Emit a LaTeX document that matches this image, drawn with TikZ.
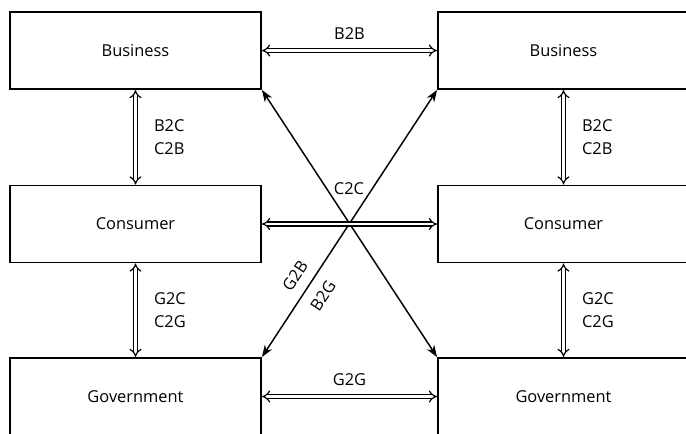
\documentclass[tikz,border=0pt]{standalone}
\usepackage{fontspec}
\setmainfont{Open Sans}
\usetikzlibrary{arrows.meta}
\begin{document}
\begin{tikzpicture}[x=0.75pt,y=-0.75pt,
  box/.style={draw, line width=1.4pt, minimum width=188.25pt, minimum height=57.75pt, inner sep=0pt, font=\fontsize{12.3}{15}\selectfont},
  dbl/.style={double, double distance=2.2pt, line width=0.9pt, {Implies[scale=1.4]}-{Implies[scale=1.4]}},
  diag/.style={line width=1.1pt, {Stealth[length=9pt,width=6.5pt]}-{Stealth[length=9pt,width=6.5pt]}},
  lbl/.style={font=\fontsize{12.3}{17}\selectfont, inner sep=0pt, align=left}]
\useasboundingbox (0,0) rectangle (686,433);
\clip (0,0) rectangle (686,433);
% boxes
\node[box] (bl) at (135.5,50.5) {Business};
\node[box] (cl) at (135.5,224) {Consumer};
\node[box] (gl) at (135.5,396.5) {Government};
\node[box] (br) at (563.5,50.5) {Business};
\node[box] (cr) at (563.5,224) {Consumer};
\node[box] (gr) at (563.5,396.5) {Government};
% diagonals
\draw[diag] (bl.south east) -- (gr.north west);
\draw[diag] (gl.north east) -- (br.south west);
\node[lbl, rotate=56.7] (g2b) at (295,276) {G2B};
\node[lbl, rotate=56.7] (b2g) at (323,296) {B2G};
% horizontal double arrows
\draw[dbl] (bl) -- (br) node[midway, above=7.5pt, lbl] (b2b) {B2B};
\draw[dbl] (cl) -- (cr);
\draw[dbl] (gl) -- (gr) node[midway, above=7.5pt, lbl] (g2g) {G2G};
\node[lbl] (c2c) at (349,189) {C2C};
% vertical double arrows
\draw[dbl] (bl) -- (cl) node[midway, right=13.5pt, lbl] (lbc) {B2C\\C2B};
\draw[dbl] (br) -- (cr) node[midway, right=13.5pt, lbl] (rbc) {B2C\\C2B};
\draw[dbl] (cl) -- (gl) node[midway, right=13.5pt, lbl] (lgc) {G2C\\C2G};
\draw[dbl] (cr) -- (gr) node[midway, right=13.5pt, lbl] (rgc) {G2C\\C2G};
\end{tikzpicture}
\end{document}
